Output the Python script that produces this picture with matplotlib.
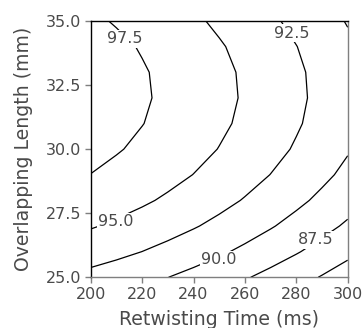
import numpy as np
import matplotlib
matplotlib.use('Agg')
import matplotlib.pyplot as plt
from matplotlib.ticker import FormatStrFormatter

# retwisting time (ms) and overlapping length (mm) grid
times = [200, 210, 220, 230, 240, 250, 260, 270, 280, 290, 300]
lengths = [25, 26, 27, 28, 29, 30, 31, 32, 33, 34, 35]

# response values, one row per length
z_values = [
    [91.81, 91.27, 90.68, 90.02, 89.31, 88.54, 87.70, 86.81, 85.86, 84.85, 83.79],
    [93.62, 93.09, 92.49, 91.84, 91.12, 90.35, 89.52, 88.63, 87.68, 86.67, 85.60],
    [95.18, 94.64, 94.05, 93.39, 92.68, 91.91, 91.07, 90.18, 89.23, 88.22, 87.16],
    [96.46, 95.92, 95.33, 94.67, 93.96, 93.19, 92.35, 91.46, 90.51, 89.50, 88.44],
    [97.47, 96.93, 96.34, 95.68, 94.97, 94.20, 93.36, 92.47, 91.52, 90.51, 89.45],
    [98.21, 97.67, 97.08, 96.42, 95.71, 94.94, 94.11, 93.22, 92.27, 91.26, 90.19],
    [98.68, 98.14, 97.55, 96.90, 96.18, 95.41, 94.58, 93.69, 92.74, 91.73, 90.66],
    [98.88, 98.35, 97.75, 97.10, 96.38, 95.61, 94.78, 93.89, 92.94, 91.93, 90.86],
    [98.81, 98.28, 97.68, 97.03, 96.31, 95.54, 94.71, 93.82, 92.87, 91.86, 90.79],
    [98.48, 97.94, 97.35, 96.69, 95.98, 95.21, 94.38, 93.49, 92.54, 91.53, 90.46],
    [97.87, 97.34, 96.74, 96.09, 95.37, 94.60, 93.77, 92.88, 91.93, 90.92, 89.85],
]
levels = [85.0, 87.5, 90.0, 92.5, 95.0, 97.5]
# where the level labels sit (time, length)
label_spots = [(213.3, 34.31), (209.8, 27.16), (278.1, 34.53), (249.9, 25.69), (287.5, 26.47)]

plt.rcParams['font.family'] = ['DejaVu Sans']
text_col = '#4a4a4a'
spine_col = '#7f7f7f'

fig = plt.figure(figsize=(3.62, 3.28), dpi=100)
ax = fig.add_axes([0.2506, 0.1546, 0.7099, 0.7814])

T, L = np.meshgrid(times, lengths)
cs = ax.contour(T, L, np.array(z_values), levels=levels, colors='black', linewidths=0.9)
labels = ax.clabel(cs, fmt='%.1f', fontsize=11.5, manual=label_spots, inline=False)
for t in labels:
    # put each label back on its spot, flat, with a white patch that breaks the line
    px, py = min(label_spots, key=lambda p: (p[0] - t.get_position()[0]) ** 2 / 100 + (p[1] - t.get_position()[1]) ** 2)
    t.set_position((px, py))
    t.set_rotation(0)
    t.set_color(text_col)
    t.set_bbox(dict(facecolor='white', edgecolor='none', pad=1.2))

ax.set_xlim(200, 300)
ax.set_ylim(25, 35)
ax.set_xticks([200, 220, 240, 260, 280, 300])
ax.set_yticks([25.0, 27.5, 30.0, 32.5, 35.0])
ax.yaxis.set_major_formatter(FormatStrFormatter('%.1f'))
ax.tick_params(length=4, width=1, color=spine_col, labelsize=11.5, labelcolor=text_col, pad=3)
for s in ax.spines.values():
    s.set_color(spine_col)
    s.set_linewidth(1)
ax.spines['left'].set_color('black')
ax.spines['top'].set_color('black')
ax.set_xlabel('Retwisting Time (ms)', fontsize=13.6, color=text_col, labelpad=6)
ax.set_ylabel('Overlapping Length (mm)', fontsize=13.6, color=text_col, labelpad=9)

fig.savefig('out.png', dpi=100)
